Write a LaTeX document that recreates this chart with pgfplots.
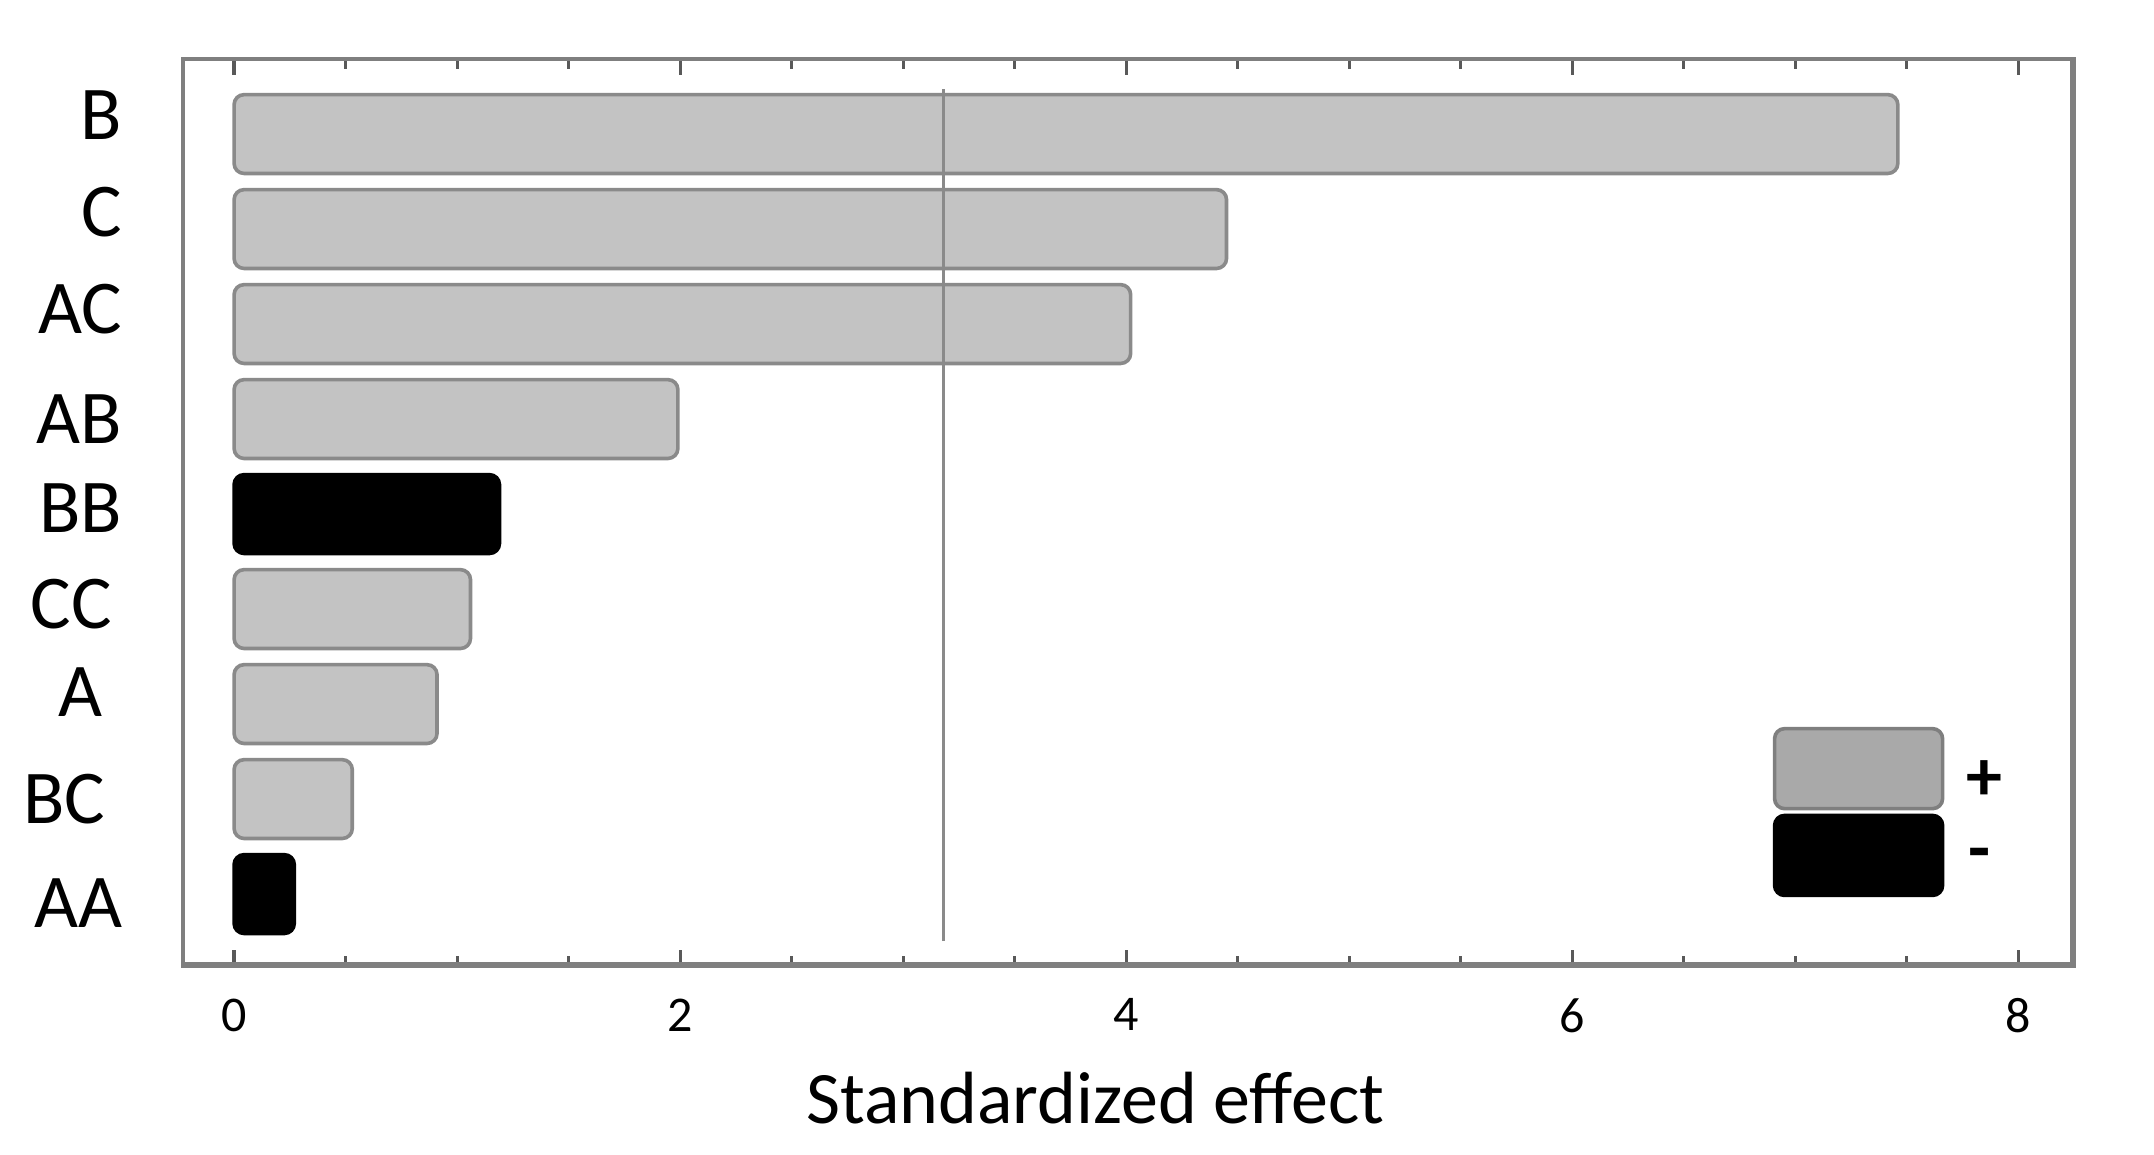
\documentclass[border=0pt]{standalone}
\usepackage{pgfplots}
\pgfplotsset{compat=1.18}
\usepackage{fontspec}
\setmainfont{Carlito}
\definecolor{barfill}{HTML}{C3C3C3}
\definecolor{barline}{HTML}{8A8A8A}
\definecolor{legfill}{HTML}{A9A9A9}
\definecolor{frame}{HTML}{7F7F7F}
\newcommand\lab[3]{\raisebox{#1}[12pt][0pt]{#3\hspace{#2}}}
\begin{document}
\begin{tikzpicture}
\begin{axis}[
  scale only axis, width=472.8pt, height=226.7pt,
  xmin=-0.23, xmax=8.25, ymin=-0.755, ymax=8.79,
  /pgf/number format/assume math mode=true,
  axis line style={draw=frame, line width=1pt},
  xtick={0,2,4,6,8}, minor x tick num=3,
  xtick pos=both, xticklabel pos=lower, tick align=inside,
  major tick length=4pt, minor tick length=2.5pt,
  xtick style={draw=black!65, line width=0.8pt},
  minor x tick style={draw=black!65, line width=0.8pt},
  ytick={0,1,2,3,4,5,6,7,8},
  yticklabels={\lab{-2.25pt}{0pt}{AA},\lab{0pt}{4.25pt}{BC},\lab{3pt}{5pt}{A},\lab{1.25pt}{2.5pt}{CC},\lab{1.5pt}{0pt}{BB},\lab{0pt}{0pt}{AB},\lab{3.75pt}{0pt}{AC},\lab{4.25pt}{0pt}{C},\lab{4.75pt}{0pt}{B}},
  ytick style={draw=none},
  xticklabel style={font=\fontsize{12.5}{14}\selectfont, anchor=north, inner sep=0pt, yshift=-8pt},
  yticklabel style={font=\fontsize{19}{21}\selectfont, anchor=east, inner sep=0pt, xshift=-15pt},
  xlabel={Standardized effect},
  xlabel style={font=\fontsize{18.5}{20}\selectfont, at={(axis description cs:0.4825,-0.1742)}, anchor=base, inner sep=0pt},
  legend image code/.code={\draw[#1, rounded corners=2.5pt, line width=0.9pt] (0pt,-10pt) rectangle (42pt,10pt);},
  legend style={at={(axis description cs:0.8403,0.2644)}, anchor=north west, draw=none, fill=none, inner sep=0pt, row sep=0.8pt, column sep=5.5pt, nodes={inner sep=0pt, font=\fontsize{18}{20}\selectfont\bfseries}},
]
\addplot[xbar, bar shift=0pt, bar width=0.83, fill=barfill, draw=barline, line width=0.9pt, rounded corners=2.5pt, forget plot]
  coordinates {(7.46,8) (4.45,7) (4.02,6) (1.99,5) (1.06,3) (0.91,2) (0.53,1)};
\addplot[xbar, bar shift=0pt, bar width=0.83, fill=black, draw=black, line width=0.9pt, rounded corners=2.5pt, forget plot]
  coordinates {(1.19,4) (0.27,0)};
\addplot[draw=barline, line width=0.7pt, forget plot] coordinates {(3.18,-0.495) (3.18,8.47)};
\addlegendimage{fill=legfill, draw=frame}
\addlegendentry{\raisebox{-3.75pt}[10pt][0pt]{+}}
\addlegendimage{fill=black, draw=black}
\addlegendentry{\raisebox{0pt}[10pt][0pt]{\hspace{-2.5pt}-}}
\draw[frame, line width=2pt] (rel axis cs:0,0) -- (rel axis cs:1,0) -- (rel axis cs:1,1);
\end{axis}
\pgfresetboundingbox
\path ([shift={(-45.7pt,-47.1pt)}]current axis.south west) rectangle ([shift={(20pt,14.75pt)}]current axis.north east);
\end{tikzpicture}
\end{document}
